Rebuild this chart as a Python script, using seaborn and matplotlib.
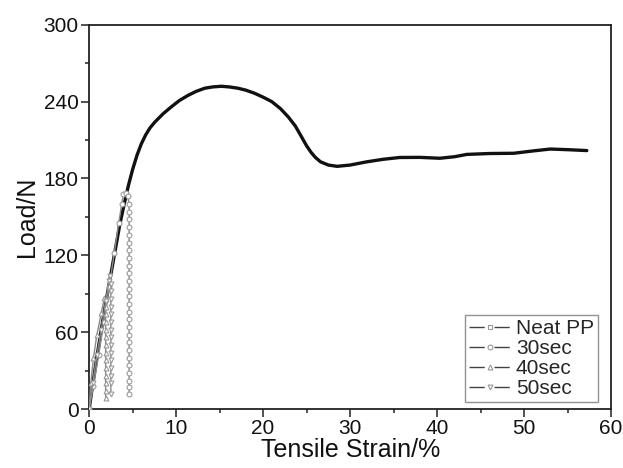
import pandas as pd
import seaborn as sns
import matplotlib
matplotlib.use("Agg")
import matplotlib.pyplot as plt
from matplotlib.lines import Line2D
from matplotlib.ticker import MultipleLocator

# ---------------- data ----------------
neat_strain = [0, 0.5, 1.0, 1.5, 2.0, 2.5, 3.0, 3.5, 4.0, 4.5, 5.0, 5.5, 6.0,
               6.5, 7.0, 7.55, 8.5, 9.46, 10.4, 11.4, 12.3, 13.3, 14.2, 15.2,
               16.1, 17.1, 18.0, 19.0, 20.0, 21.0, 22.0, 22.9, 23.7, 24.4, 25.0,
               25.5, 26.0, 26.6, 27.5, 28.5, 30.0, 31.9, 33.8, 35.7, 38.0, 40.3,
               42.0, 43.4, 46.0, 48.8, 51.0, 53.0, 55.0, 57.2]
neat_load = [0, 23, 45, 66, 86, 105, 124, 143, 159, 174, 187, 198, 207,
             214, 219.5, 224, 230.5, 236, 241, 245, 248, 250.5, 251.5, 252,
             251.5, 250.5, 249, 246.6, 243.5, 240, 234.5, 228, 221, 212.7, 205.5,
             200.5, 196.5, 193, 190.5, 189.5, 190.5, 193, 195, 196.4, 196.5, 195.8,
             197, 198.8, 199.5, 199.7, 201.5, 203, 202.5, 201.8]

s30_strain = [0, 0.5, 1.1, 1.7, 2.3, 2.9, 3.4, 3.75, 3.95, 4.2, 4.45, 4.6,
              4.6, 4.6, 4.6, 4.6, 4.6, 4.6, 4.6, 4.6, 4.6, 4.6, 4.6, 4.6, 4.6,
              4.6, 4.6, 4.6, 4.6, 4.6, 4.6, 4.6, 4.6, 4.6, 4.6, 4.6, 4.6]
s30_load = [0, 18, 42, 68, 95, 122, 145, 160, 168, 169, 166, 160,
            154, 148, 142, 136, 130, 124, 118, 112, 106, 100, 94, 88, 82,
            76, 70, 64, 58, 52, 46, 40, 34, 28, 22, 17, 12]

s40_strain = [0, 0.2, 0.5, 0.9, 1.4, 1.75, 1.9,
              1.9, 1.9, 1.9, 1.9, 1.9, 1.9, 1.9, 1.9, 1.9, 1.9, 1.9, 1.9, 1.9]
s40_load = [0, 20, 40, 58, 75, 87, 86,
            80, 74, 68, 62, 56, 50, 44, 38, 32, 26, 20, 14, 9]

s50_strain = [0, 0.4, 0.9, 1.4, 1.9, 2.3, 2.45,
              2.5, 2.5, 2.5, 2.5, 2.5, 2.5, 2.5, 2.5, 2.5, 2.5, 2.5, 2.5, 2.5,
              2.5, 2.5]
s50_load = [0, 20, 42, 62, 84, 100, 104,
            98, 92, 86, 80, 74, 68, 62, 56, 50, 44, 38, 32, 26,
            20, 12]

labels = ["Neat PP", "30sec", "40sec", "50sec"]
markers = ["s", "o", "^", "v"]

# ---------------- style ----------------
sns.set_theme(style="ticks")
plt.rcParams["font.family"] = ["Liberation Sans", "DejaVu Sans"]

fig = plt.figure(figsize=(6.23, 4.68), dpi=100)
ax = fig.add_axes([0.143, 0.126, 0.838, 0.821])

gray = "#8a8a8a"

# Neat PP: thick dark line
sns.lineplot(x=neat_strain, y=neat_load, ax=ax, color="#111111", lw=2.4,
             estimator=None, sort=False, zorder=2)

series = [(s30_strain, s30_load, "o"), (s40_strain, s40_load, "^"),
          (s50_strain, s50_load, "v")]
for xs, ys, m in series:
    sns.lineplot(x=xs, y=ys, ax=ax, color=gray, lw=1.0, marker=m,
                 markersize=3.5, markerfacecolor="white",
                 markeredgecolor="#9a9a9a", markeredgewidth=0.8,
                 estimator=None, sort=False, zorder=3)

ax.set_xlim(0, 60)
ax.set_ylim(0, 300)
ax.xaxis.set_major_locator(MultipleLocator(10))
ax.xaxis.set_minor_locator(MultipleLocator(5))
ax.yaxis.set_major_locator(MultipleLocator(60))
ax.yaxis.set_minor_locator(MultipleLocator(30))

for sp in ax.spines.values():
    sp.set_visible(True)
    sp.set_color("#222222")
    sp.set_linewidth(1.3)

ax.tick_params(which="both", direction="out", top=False, right=False,
               color="#222222", width=1.1)
ax.tick_params(which="major", length=5.5, labelsize=15, colors="#222222",
               labelcolor="#111111", pad=2)
ax.tick_params(which="minor", length=3)

ax.set_xlabel("Tensile Strain/%", fontsize=18, color="#111111", labelpad=0)
ax.set_ylabel("Load/N", fontsize=18, color="#111111", labelpad=3)

handles = [Line2D([], [], color="#444444", lw=1.0, ls=(0, (11, 7)),
                  marker=m, markersize=3.5, markerfacecolor="white",
                  markeredgecolor="#999999", markeredgewidth=0.8)
           for m in markers]
leg = ax.legend(handles, labels, loc="lower right",
                bbox_to_anchor=(0.975, 0.018), borderaxespad=0,
                fontsize=15, frameon=True, fancybox=False, handlelength=2.0,
                handletextpad=0.25, labelspacing=0.05, borderpad=0.2)
leg.get_frame().set_edgecolor("#777777")
leg.get_frame().set_linewidth(1.0)

fig.savefig("out.png", dpi=100)
